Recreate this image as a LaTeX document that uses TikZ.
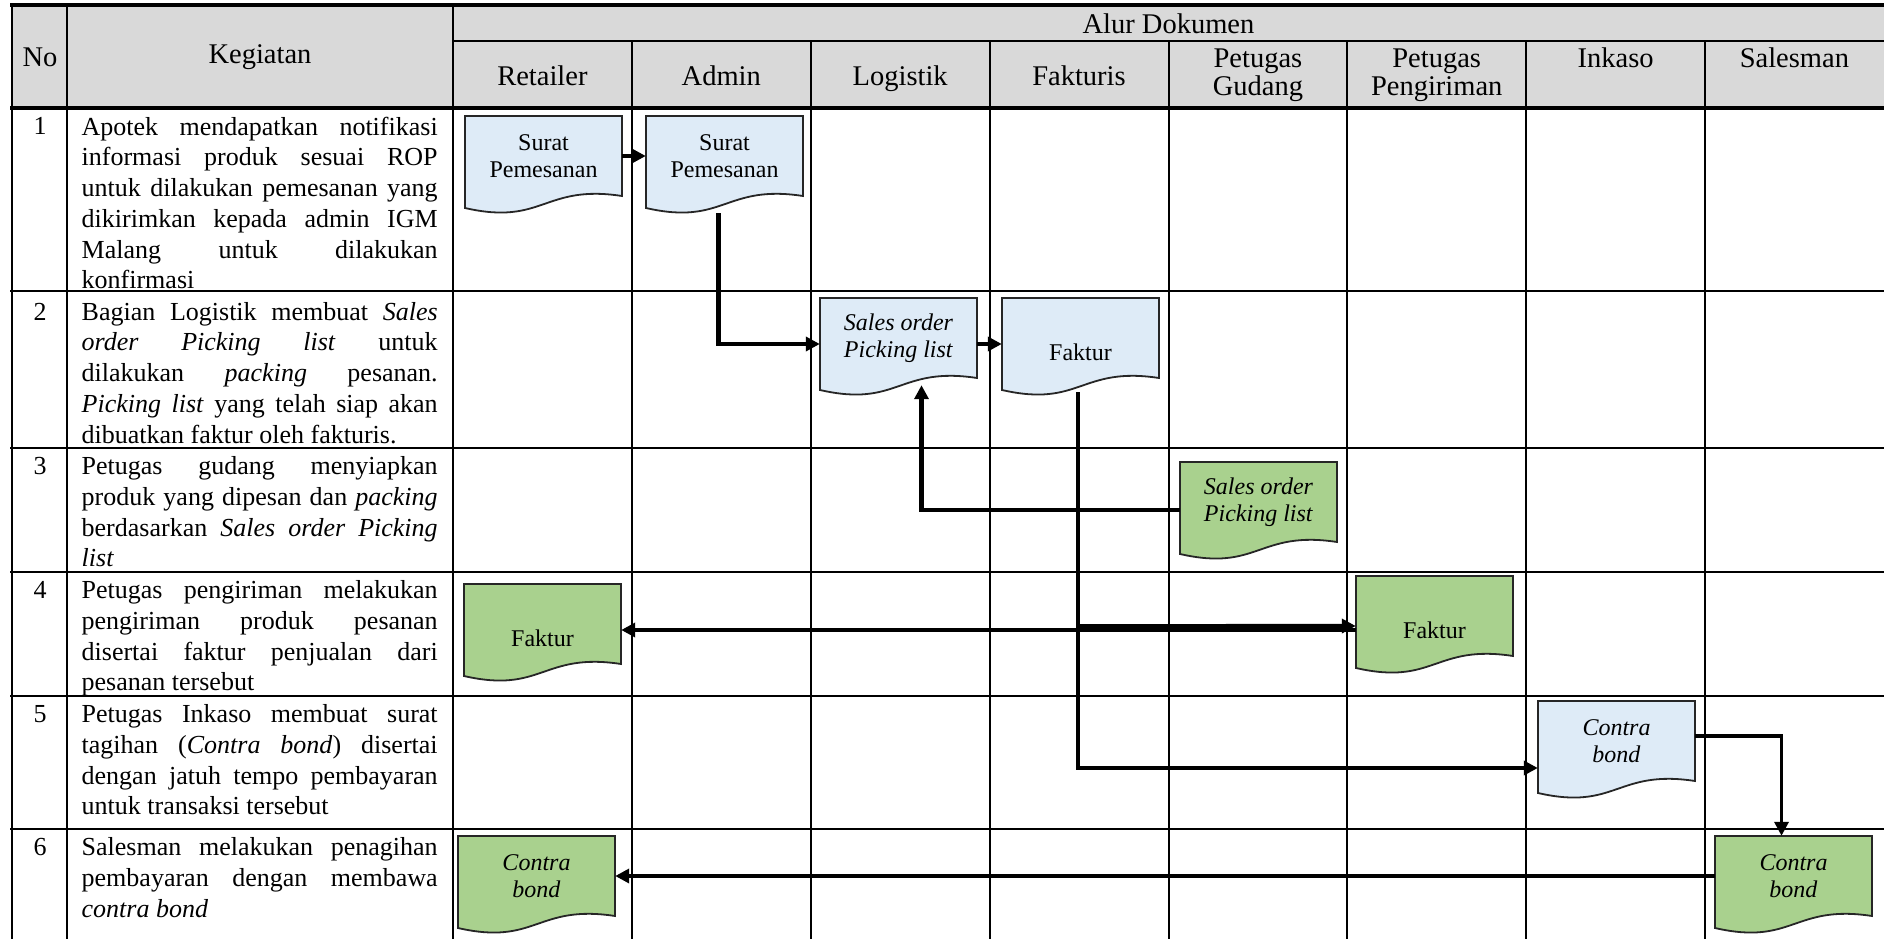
\documentclass[tikz,border=0pt]{standalone}
\usepackage{fontspec}
\setmainfont{Liberation Serif}
\usetikzlibrary{arrows.meta,calc}
\tolerance=10000
\hyphenpenalty=10000
\exhyphenpenalty=10000

\definecolor{docblue}{RGB}{222,235,247}
\definecolor{docgreen}{RGB}{169,209,142}
\definecolor{hdrgray}{RGB}{217,217,217}

\tikzset{
  gridline/.style={line width=2.6pt, black},
  borderline/.style={line width=3.6pt, black},
  headtext/.style={inner sep=0pt, font=\fontsize{28.5}{27.5}\selectfont},
  bodytext/.style={anchor=north west, text width=356pt, align=justify, inner sep=0pt,
                   font=\fontsize{26}{30.7}\selectfont},
  numtext/.style={anchor=base, inner sep=0pt, font=\fontsize{26}{30.7}\selectfont},
  docbox/.style={minimum width=157pt, minimum height=80pt, inner sep=0pt, align=center,
                 font=\fontsize{24}{26.7}\selectfont},
  docline/.style={draw=black!85, line width=1.8pt},
  flowarrow/.style={line width=4.2pt, -{Triangle[length=14pt,width=14pt]}},
}

% document symbol: #1 name, #2/#3 top-left corner, #4 fill, #5 text
\newcommand{\flowdoc}[5]{%
  \path[docline, fill=#4] (#2,#3) -- ++(157,0) -- ++(0,80)
    .. controls ($(#2,#3)+(78.5,68)$) and ($(#2,#3)+(78.5,110)$) .. ($(#2,#3)+(0,92)$) -- cycle;
  \node[docbox] (#1) at ($(#2,#3)+(78.5,40)$) {#5};
}
\newcommand{\lowfaktur}{\raisebox{-14pt}[\height][\depth]{Faktur}}

\begin{document}
\begin{tikzpicture}[x=1pt,y=-1pt]
\useasboundingbox (0,0) rectangle (1884,939);
\clip (0,0) rectangle (1884,939);

% header band
\fill[hdrgray] (12,5) rectangle (1890,108);

% table grid
\foreach \x in {12,67,453} \draw[gridline] (\x,5) -- (\x,945);
\foreach \x in {632,811,990,1169,1347,1526,1705} \draw[gridline] (\x,41) -- (\x,945);
\draw[borderline] (10,5) -- (1890,5);
\draw[gridline] (453,41) -- (1890,41);
\draw[gridline, line width=3.2pt] (10,108) -- (1890,108);
\foreach \y in {291,448,572,696,829} \draw[gridline] (10,\y) -- (1890,\y);

% header texts
\node[headtext, anchor=base] (hno) at (40,67) {No};
\node[headtext, anchor=base] (hkeg) at (260,64) {Kegiatan};
\node[headtext, anchor=base] (halur) at (1168.5,33.3) {Alur Dokumen};
\node[headtext, anchor=base] (hret) at (542.4,86) {Retailer};
\node[headtext, anchor=base] (hadm) at (721.3,86) {Admin};
\node[headtext, anchor=base] (hlog) at (900.2,86) {Logistik};
\node[headtext, anchor=base] (hfak) at (1079,86) {Fakturis};
\node[headtext, anchor=north, align=center] (hgud) at (1257.9,45.5) {\rule{0pt}{22pt}Petugas\\Gudang};
\node[headtext, anchor=north, align=center] (hpgr) at (1436.7,45.5) {\rule{0pt}{22pt}Petugas\\Pengiriman};
\node[headtext, anchor=base] (hink) at (1615.6,67.5) {Inkaso};
\node[headtext, anchor=base] (hsal) at (1794.4,67.5) {Salesman};

% row numbers
\node[numtext] (n1) at (40,135) {1};
\node[numtext] (n2) at (40,320) {2};
\node[numtext] (n3) at (40,474.5) {3};
\node[numtext] (n4) at (40,598.5) {4};
\node[numtext] (n5) at (40,722.5) {5};
\node[numtext] (n6) at (40,855.5) {6};

% activity descriptions
\node[bodytext] (k1) at (81.5,115) {\rule{0pt}{20pt}Apotek mendapatkan notifikasi\linebreak
 informasi produk sesuai ROP\linebreak untuk dilakukan pemesanan yang\linebreak
 dikirimkan kepada admin IGM\linebreak Malang untuk dilakukan\linebreak konfirmasi};
\node[bodytext] (k2) at (81.5,300) {\rule{0pt}{20pt}Bagian Logistik membuat \textit{Sales}\linebreak
 \textit{order Picking list} untuk\linebreak dilakukan \textit{packing} pesanan.\linebreak
 \textit{Picking list} yang telah siap akan\linebreak dibuatkan faktur oleh fakturis.};
\node[bodytext] (k3) at (81.5,454.5) {\rule{0pt}{20pt}Petugas gudang menyiapkan\linebreak
 produk yang dipesan dan \textit{packing}\linebreak berdasarkan \textit{Sales order Picking}\linebreak
 \textit{list}};
\node[bodytext] (k4) at (81.5,578.5) {\rule{0pt}{20pt}Petugas pengiriman melakukan\linebreak
 pengiriman produk pesanan\linebreak disertai faktur penjualan dari\linebreak pesanan tersebut};
\node[bodytext] (k5) at (81.5,702.5) {\rule{0pt}{20pt}Petugas Inkaso membuat surat\linebreak
 tagihan (\textit{Contra bond}) disertai\linebreak dengan jatuh tempo pembayaran\linebreak
 untuk transaksi tersebut};
\node[bodytext] (k6) at (81.5,835.5) {\rule{0pt}{20pt}Salesman melakukan penagihan\linebreak
 pembayaran dengan membawa\linebreak \textit{contra bond}};

% documents
\flowdoc{ret1}{465}{116}{docblue}{Surat\\Pemesanan}
\flowdoc{adm1}{646}{116}{docblue}{Surat\\Pemesanan}
\flowdoc{log}{820}{298}{docblue}{\textit{Sales order}\\\textit{Picking list}}
\flowdoc{fak}{1002}{298}{docblue}{\lowfaktur}
\flowdoc{gud}{1180}{462}{docgreen}{\textit{Sales order}\\\textit{Picking list}}
\flowdoc{ret2}{464}{584}{docgreen}{\lowfaktur}
\flowdoc{pgr}{1356}{576}{docgreen}{\lowfaktur}
\flowdoc{ink}{1538}{701}{docblue}{\textit{Contra}\\\textit{bond}}
\flowdoc{sal}{1715}{836}{docgreen}{\textit{Contra}\\\textit{bond}}
\flowdoc{ret3}{458}{836}{docgreen}{\textit{Contra}\\\textit{bond}}

% document flow
\draw[flowarrow] (ret1.east) -- (adm1.west);
\draw[flowarrow] ($(adm1.south)+(-6,17)$) |- ($(log.west)+(0,6)$);
\draw[flowarrow] ($(log.east)+(0,6)$) -- ($(fak.west)+(0,6)$);
\draw[flowarrow] ($(gud.west)+(0,8)$) -| ($(log.south)+(23,7)$);
\draw[flowarrow] ($(fak.south)+(-2.5,14)$) |- ($(ink.west)+(0,27)$);
\draw[flowarrow] ($(fak.south)+(-2.5,248)$) -- ($(pgr.west)+(0,10)$);
\draw[flowarrow] ($(pgr.west)+(0,14)$) -- ($(ret2.east)+(0,6)$);
\draw[flowarrow, line width=3.4pt] ($(ink.east)+(0,-5)$) -| ($(sal.north)+(-12,0)$);
\draw[flowarrow] (sal.west) -- (ret3.east);
\end{tikzpicture}
\end{document}
